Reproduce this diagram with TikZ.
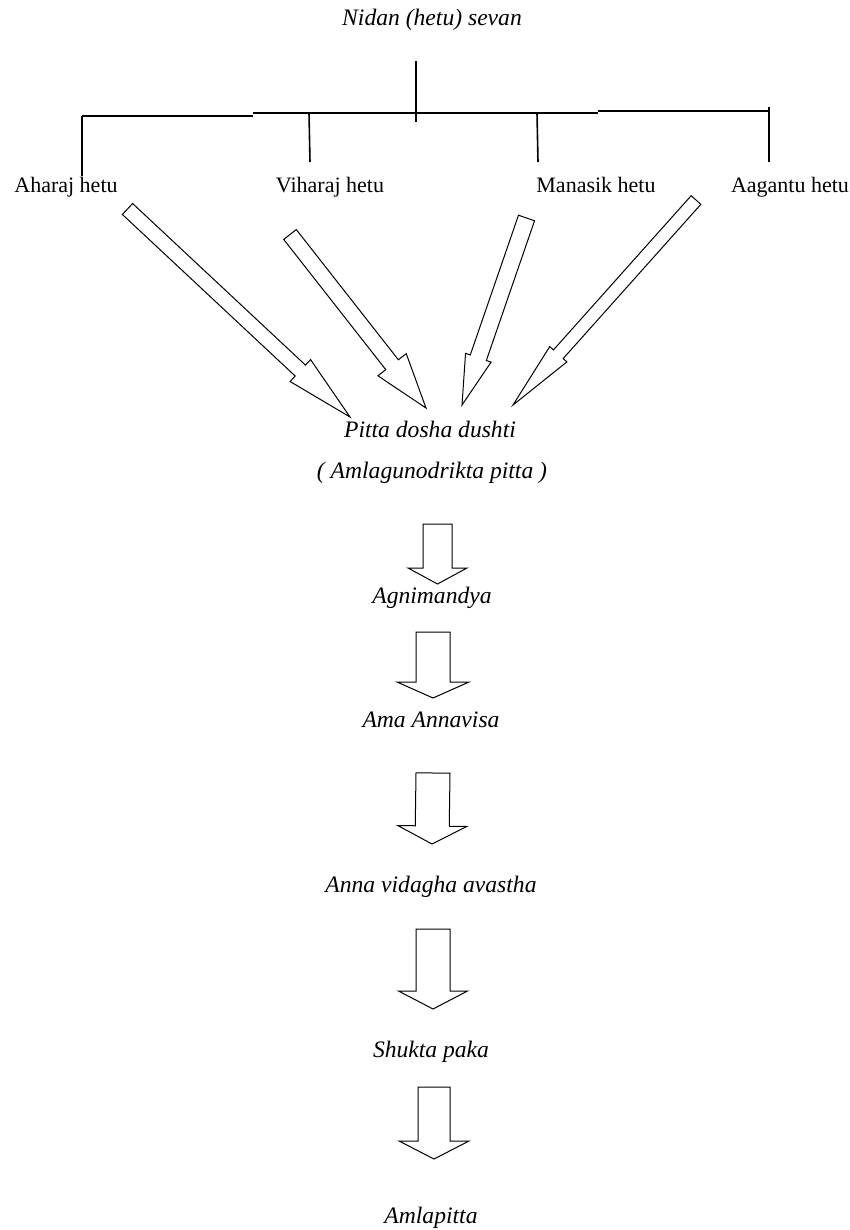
\documentclass[tikz,border=0pt]{standalone}
\usepackage{fontspec}
\setmainfont{Liberation Serif}
\usetikzlibrary{calc}
\tikzset{
  lbl/.style={font=\fontsize{22}{26}\selectfont, inner sep=0pt, anchor=base},
  itl/.style={font=\fontsize{23.6}{28}\selectfont\itshape, inner sep=0pt, anchor=base},
  treeline/.style={line width=1.6pt, black},
  blockarrow/.style={line width=1pt, black, line join=miter, fill=white},
}
\newcommand\blockarr[5]{%
  \coordinate (bh) at ($(#2)!#5!(#1)$);
  \draw[blockarrow] ($(#1)!#3!90:(#2)$) -- ($(bh)!#3!90:(#2)$) -- ($(bh)!#4!90:(#2)$) -- (#2)
     -- ($(bh)!#4!-90:(#2)$) -- ($(bh)!#3!-90:(#2)$) -- ($(#1)!#3!-90:(#2)$) -- cycle;}
\begin{document}
\begin{tikzpicture}[x=1pt,y=-1pt]
\useasboundingbox[fill=white] (0,0) rectangle (850,1230);

% texts
\node[itl] (nidan) at (432,26) {Nidan (hetu) sevan};
\node[lbl] (ahar) at (66,193) {Aharaj hetu};
\node[lbl] (vihar) at (330,193) {Viharaj hetu};
\node[lbl] (manas) at (596,193) {Manasik hetu};
\node[lbl] (aagan) at (790,193) {Aagantu hetu};
\node[itl] (pitta) at (430,437) {Pitta dosha dushti};
\node[itl] (amla) at (432,478) {( Amlagunodrikta pitta )};
\node[itl] (agni) at (432,603) {Agnimandya};
\node[itl] (ama) at (431,727) {Ama Annavisa};
\node[itl] (anna) at (431,892) {Anna vidagha avastha};
\node[itl] (shukta) at (431,1057) {Shukta paka};
\node[itl] (amlap) at (431,1223) {Amlapitta};

% tree
\coordinate (t0) at (416,61);
\coordinate (t1) at (416,122);
\draw[treeline] (t0) -- (t1);
\coordinate (hA) at (82,116);
\coordinate (hB) at (253,116);
\coordinate (hC) at (253,113);
\coordinate (hD) at (598,113);
\coordinate (hE) at (598,111);
\coordinate (hF) at (769,111);
\draw[treeline] (hA) -- (hB);
\draw[treeline] (hC) -- (hD);
\draw[treeline] (hE) -- (hF);
\coordinate (vA) at (82,176);
\draw[treeline] (hA) -- (vA);
\coordinate (vB0) at (309,113);
\coordinate (vB) at (310,162);
\draw[treeline] (vB0) -- (vB);
\coordinate (vC0) at (537,113);
\coordinate (vC) at (538,162);
\draw[treeline] (vC0) -- (vC);
\coordinate (vD0) at (769,107);
\coordinate (vD) at (769,162);
\draw[treeline] (vD0) -- (vD);

% diagonal block arrows
\coordinate (a1t) at (127.5,209);
\coordinate (a1h) at (350,417);
\blockarr{a1t}{a1h}{7.5pt}{15pt}{68pt}
\coordinate (a2t) at (290,234.5);
\coordinate (a2h) at (426,408);
\blockarr{a2t}{a2h}{8pt}{18pt}{55pt}
\coordinate (a3t) at (526.5,218);
\coordinate (a3h) at (462,405);
\blockarr{a3t}{a3h}{8.5pt}{13.5pt}{50pt}
\coordinate (a4t) at (696,200);
\coordinate (a4h) at (513,405);
\blockarr{a4t}{a4h}{6.5pt}{11.5pt}{68pt}

% vertical block arrows
\coordinate (d1t) at (437.5,524);
\coordinate (d1h) at (437.5,584);
\blockarr{d1t}{d1h}{14.5pt}{29.5pt}{16pt}
\coordinate (d2t) at (433,632);
\coordinate (d2h) at (433,698);
\blockarr{d2t}{d2h}{17pt}{36pt}{16pt}
\coordinate (d3t) at (433,773);
\coordinate (d3h) at (432,844);
\blockarr{d3t}{d3h}{17pt}{34.5pt}{18pt}
\coordinate (d4t) at (433,929);
\coordinate (d4h) at (433,1009);
\blockarr{d4t}{d4h}{17pt}{34.5pt}{18pt}
\coordinate (d5t) at (434,1087);
\coordinate (d5h) at (434,1159);
\blockarr{d5t}{d5h}{16pt}{35pt}{18pt}
\end{tikzpicture}
\end{document}
